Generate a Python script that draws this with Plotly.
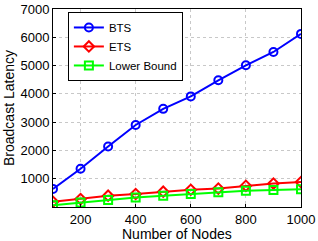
import plotly.graph_objects as go

nodes = [100, 200, 300, 400, 500, 600, 700, 800, 900, 1000]
bts = [640, 1350, 2140, 2900, 3470, 3910, 4480, 5010, 5480, 6120]
ets = [185, 280, 400, 460, 540, 610, 650, 750, 830, 880]
lower = [60, 160, 245, 340, 400, 460, 520, 575, 605, 630]
x_ticks = [200, 400, 600, 800, 1000]
y_ticks = [1000, 2000, 3000, 4000, 5000, 6000, 7000]
x_title = "Number of Nodes"
y_title = "Broadcast Latency"

fig = go.Figure()
series = [
    ("BTS", bts, "#0000ff", "circle-open"),
    ("ETS", ets, "#ff0000", "diamond-open"),
    ("Lower Bound", lower, "#00ff00", "square-open"),
]
for name, vals, col, sym in series:
    fig.add_trace(go.Scatter(
        x=nodes, y=vals, name=name, mode="lines+markers",
        line=dict(color=col, width=2),
        marker=dict(symbol=sym, size=8, color=col, line=dict(width=2, color=col)),
    ))

axis_common = dict(
    showline=True, linecolor="black", linewidth=1, mirror=True,
    ticks="inside", ticklen=3, tickcolor="black",
    showgrid=True, gridcolor="#c8c8c8", griddash="dot", gridwidth=1,
    zeroline=False, tickfont=dict(size=13, color="black"), automargin=False,
)
fig.update_xaxes(range=[100, 1000], tickvals=x_ticks, **axis_common)
fig.update_yaxes(range=[0, 7000], tickvals=y_ticks, **axis_common)

fig.add_annotation(text=x_title, xref="paper", yref="paper", x=0.5, y=0,
                   xanchor="center", yanchor="middle", yshift=-27, showarrow=False,
                   borderpad=0, borderwidth=0,
                   font=dict(size=14, color="black"))
fig.add_annotation(text=y_title, xref="paper", yref="paper", x=0, y=0.5,
                   xanchor="center", yanchor="middle", xshift=-44, textangle=-90,
                   borderpad=0, borderwidth=0,
                   showarrow=False, font=dict(size=14, color="black"))

fig.update_layout(
    width=318, height=241,
    margin=dict(l=53, r=17, t=9, b=34),
    paper_bgcolor="white", plot_bgcolor="white",
    font=dict(family="Liberation Sans, Arial, sans-serif", color="black"),
    showlegend=True,
    legend=dict(x=0.06, y=0.985, xanchor="left", yanchor="top",
                bgcolor="white", bordercolor="black", borderwidth=1,
                font=dict(size=11.5), tracegroupgap=0, itemwidth=30),
)
fig.write_html("out.html", config={"displayModeBar": False},
               post_script="document.body.style.margin='0';document.body.style.overflow='hidden';")
